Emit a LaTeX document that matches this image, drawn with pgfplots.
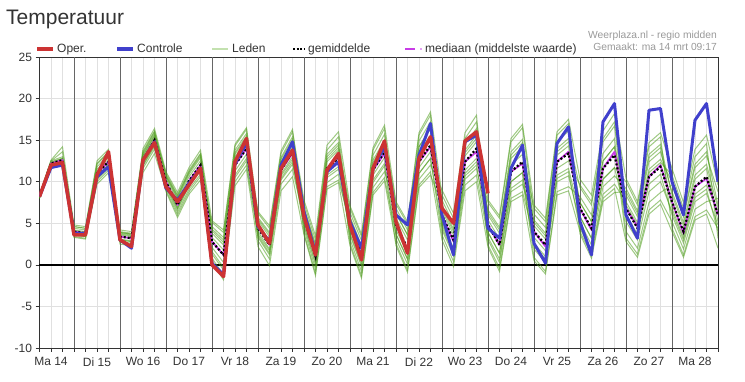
\documentclass[border=0pt]{standalone}
\usepackage{pgfplots}
\pgfplotsset{compat=1.18}
\usepackage{pgfplotstable}
\usepackage{fontspec}
\setmainfont{Liberation Sans}
\definecolor{oper}{RGB}{204,51,51}
\definecolor{ctrl}{RGB}{64,64,204}
\definecolor{memb}{RGB}{80,158,30}
\definecolor{legmemb}{RGB}{195,225,175}
\definecolor{medc}{RGB}{200,60,230}
\definecolor{txt}{RGB}{51,51,51}

\pgfplotstableread{
t oper ctrl mean med m1 m2 m3 m4 m5 m6 m7 m8 m9 m10 m11 m12
14.25 8.2 8.2 8.2 8.2 8.4 8.0 8.3 8.1 8.2 8.4 8.1 8.3 8.1 8.2 8.4 8.0
14.50 12.0 11.7 12.2 12.2 12.6 11.8 12.4 12.1 12.2 12.5 12.0 12.3 12.1 12.3 12.5 11.9
14.75 12.3 12.0 12.6 12.6 14.2 12.0 12.8 12.4 12.6 13.0 12.2 12.8 12.4 12.7 13.6 12.1
15.00 3.6 3.8 4.0 4.0 4.8 3.3 4.4 3.8 4.2 3.6 4.6 3.4 4.1 3.8 4.6 3.6
15.25 3.6 3.8 3.8 3.8 4.6 3.1 4.2 3.6 4.0 3.4 4.4 3.2 3.9 3.6 4.4 3.4
15.50 10.8 10.6 11.0 11.0 12.5 9.7 11.8 10.7 11.5 10.3 12.2 10.0 11.2 10.6 12.1 10.3
15.75 13.6 11.8 12.4 12.4 13.9 11.1 13.2 12.1 12.9 11.7 13.6 11.4 12.6 12.0 13.5 11.7
16.00 3.0 3.0 3.4 3.4 4.2 2.5 3.6 3.8 3.0 3.9 3.1 4.0 2.8 3.7 3.9 3.0
16.25 2.2 2.0 3.2 3.2 4.0 2.3 3.4 3.6 2.8 3.7 2.9 3.8 2.6 3.5 3.7 2.8
16.50 12.6 12.6 12.6 12.6 14.0 11.1 12.9 13.2 11.9 13.5 12.2 13.7 11.6 13.1 13.4 12.0
16.75 14.7 14.8 15.0 15.0 16.4 13.4 15.3 15.6 14.2 16.0 14.5 16.1 13.9 15.5 15.8 14.4
17.00 9.4 9.2 10.0 10.0 11.2 9.0 9.6 10.7 8.8 10.4 9.3 10.8 10.6 9.5 11.0 9.8
17.25 7.6 7.8 7.2 7.2 8.7 6.0 6.8 8.1 5.7 7.7 6.3 8.3 8.0 6.6 8.4 6.9
17.50 9.6 9.8 10.1 10.1 11.7 8.8 9.6 11.1 8.5 10.6 9.1 11.2 10.9 9.5 11.4 9.8
17.75 11.6 11.6 12.0 12.0 13.8 10.6 11.5 13.1 10.2 12.5 10.9 13.3 12.9 11.3 13.4 11.6
18.00 0.0 0.2 2.8 2.8 5.3 0.3 1.6 4.1 3.3 0.8 4.6 3.8 2.1 5.1 4.3 1.3
18.25 -1.4 -1.2 1.2 1.2 4.2 -1.8 -0.3 2.7 1.8 -1.2 3.3 2.4 0.3 3.9 3.0 -0.6
18.50 12.4 12.2 12.0 12.0 14.5 9.5 10.8 13.3 12.5 10.0 13.8 13.0 11.3 14.3 13.5 10.5
18.75 15.2 14.7 14.0 14.0 16.5 11.5 12.8 15.3 14.5 12.0 15.8 15.0 13.3 16.3 15.5 12.5
19.00 4.8 4.6 4.4 4.6 6.2 2.2 5.5 3.7 6.4 3.3 4.8 2.9 5.7 4.0 5.3 3.5
19.25 2.6 2.8 2.4 2.4 4.4 -0.1 3.7 1.7 4.7 1.2 2.9 0.7 3.9 1.9 3.4 1.4
19.50 11.6 12.0 11.4 11.4 13.4 8.9 12.7 10.7 13.7 10.2 11.9 9.7 12.9 10.9 12.4 10.4
19.75 13.8 14.8 13.6 13.4 16.0 10.6 15.1 12.7 16.3 12.1 14.2 11.5 15.4 13.0 14.8 12.4
20.00 5.8 6.4 5.6 5.6 7.8 3.6 7.4 4.3 6.3 6.5 4.7 5.4 3.8 6.9 6.7 4.9
20.25 1.2 1.4 1.0 1.0 3.5 -1.3 3.0 -0.5 1.8 2.0 0.0 0.8 -1.0 2.5 2.3 0.3
20.50 11.4 11.2 11.6 11.6 14.4 9.1 13.8 9.9 12.4 12.7 10.5 11.3 9.4 13.3 13.0 10.8
20.75 13.4 12.4 12.8 13.0 16.0 9.9 15.4 10.9 13.8 14.1 11.5 12.5 10.2 14.7 14.4 11.8
21.00 4.8 5.2 4.8 4.8 7.1 2.3 5.6 4.3 3.1 6.8 6.3 3.6 5.1 2.6 5.8 3.8
21.25 0.6 2.0 1.2 1.2 3.7 -1.6 2.0 0.6 -0.8 3.4 2.9 -0.2 1.5 -1.3 2.3 0.1
21.50 11.6 11.6 11.4 11.4 14.1 8.4 12.3 10.8 9.3 13.8 13.2 9.9 11.7 8.7 12.6 10.2
21.75 14.9 14.2 13.6 13.4 16.8 10.1 14.7 12.9 11.2 16.4 15.7 11.9 14.0 10.5 15.0 12.2
22.00 5.2 6.0 4.8 4.8 7.6 2.6 4.2 6.2 6.8 3.1 7.3 2.3 5.6 3.7 6.2 3.7
22.25 1.4 4.8 2.0 1.8 5.2 -0.6 1.4 3.6 4.2 0.1 4.9 -0.9 3.0 0.7 3.6 0.7
22.50 12.8 13.2 12.4 12.4 15.9 9.6 11.7 14.2 14.9 10.3 15.6 9.3 13.5 11.0 14.2 11.0
22.75 15.4 17.0 14.4 14.2 18.4 11.2 13.6 16.4 17.2 12.0 18.0 10.8 15.6 12.8 16.4 12.8
23.00 6.8 6.0 6.0 6.0 8.4 3.0 7.8 6.6 4.8 9.0 4.2 7.2 5.1 3.6 6.9 4.5
23.25 5.0 1.2 3.0 2.8 5.6 -0.2 4.9 3.6 1.7 6.2 1.1 4.3 2.0 0.4 4.0 1.4
23.50 14.9 14.8 12.4 12.4 15.2 8.9 14.5 13.1 11.0 15.9 10.3 13.8 11.4 9.6 13.5 10.7
23.75 16.0 15.6 14.0 13.6 17.2 10.0 16.4 14.8 12.4 18.0 11.6 15.6 12.8 10.8 15.2 12.0
24.00 8.6 4.4 4.8 4.8 7.8 2.1 6.0 3.0 7.5 3.9 5.4 2.4 6.6 3.3 6.3 3.9
24.25 nan 3.2 2.4 2.4 5.9 -0.8 3.8 0.3 5.6 1.4 3.1 -0.4 4.5 0.7 4.2 1.4
24.50 nan 11.6 11.2 11.2 15.2 7.6 12.8 8.8 14.8 10.0 12.0 8.0 13.6 9.2 13.2 10.0
24.75 nan 14.4 12.4 12.2 16.9 8.4 14.2 9.7 16.5 11.1 13.3 8.8 15.1 10.2 14.7 11.1
25.00 nan 2.6 4.0 4.0 7.2 0.5 2.3 5.4 6.1 0.9 6.8 3.3 4.7 1.9 5.1 2.6
25.25 nan 0.2 2.4 2.2 5.6 -1.1 0.7 3.8 4.5 -0.8 5.2 1.7 3.1 0.3 3.5 1.0
25.50 nan 14.6 12.4 12.4 16.0 8.4 10.4 14.0 14.8 8.8 15.6 11.6 13.2 10.0 13.6 10.8
25.75 nan 16.6 13.4 13.6 17.5 8.9 11.2 15.2 16.1 9.4 17.0 12.5 14.3 10.7 14.8 11.6
26.00 nan 5.2 6.8 6.8 10.3 4.0 4.4 9.3 5.8 8.2 3.7 9.6 7.5 5.1 7.5 5.8
26.25 nan 1.2 4.4 4.2 8.4 1.2 1.6 7.2 3.2 6.0 0.8 7.6 5.2 2.4 5.2 3.2
26.50 nan 17.2 11.6 11.6 16.1 8.0 8.5 14.8 10.3 13.4 7.6 15.2 12.5 9.4 12.5 10.3
26.75 nan 19.4 13.2 13.6 18.2 9.2 9.7 16.7 11.7 15.2 8.7 17.2 14.2 10.7 14.2 11.7
27.00 nan 6.0 6.8 6.8 10.4 2.8 7.6 5.2 10.0 4.0 8.8 7.2 3.2 9.2 8.4 6.0
27.25 nan 3.2 4.4 4.6 7.6 0.9 5.1 3.0 7.2 2.0 6.2 4.8 1.3 6.5 5.8 3.7
27.50 nan 18.6 10.6 10.6 14.7 6.1 11.5 8.8 14.2 7.5 12.9 11.1 6.6 13.3 12.4 9.7
27.75 nan 18.8 11.8 12.0 15.9 7.3 12.7 10.0 15.4 8.7 14.1 12.3 7.8 14.5 13.6 10.9
28.00 nan 10.0 7.6 7.6 11.6 4.0 10.0 6.4 4.4 9.6 6.8 10.8 5.2 8.4 8.8 6.0
28.25 nan 6.0 4.0 3.8 7.5 0.9 6.1 3.0 1.2 5.8 3.3 6.8 1.9 4.7 5.1 2.6
28.50 nan 17.4 9.4 9.4 13.9 5.4 12.1 8.1 5.8 11.7 8.5 13.0 6.7 10.3 10.8 7.6
28.75 nan 19.4 10.6 10.4 15.6 6.1 13.6 9.1 6.6 13.1 9.6 14.6 7.6 11.6 12.1 8.6
29.00 nan 10.0 6.0 6.0 9.6 2.0 7.2 4.0 4.4 8.8 6.4 3.2 8.0 5.2 6.8 4.8
}\data

\begin{document}
\begin{tikzpicture}
\useasboundingbox (0pt,0pt) rectangle (745pt,382pt);
\begin{axis}[
  at={(39.5pt,34pt)}, anchor=south west,
  scale only axis, width=678.5pt, height=291pt,
  xmin=14.25, xmax=29, ymin=-10, ymax=25,
  axis line style={draw=black!80, line width=0.9pt},
  ytick={-10,-5,...,25},
  xtick={14.5,15.5,...,28.5},
  xticklabels={Ma 14,Di 15,Wo 16,Do 17,Vr 18,Za 19,Zo 20,Ma 21,Di 22,Wo 23,Do 24,Vr 25,Za 26,Zo 27,Ma 28},
  minor xtick={14.25,14.5,...,29},
  grid=both,
  major grid style={draw=black!12, line width=0.9pt},
  minor grid style={draw=black!12, line width=0.9pt},
  tick align=outside, tick pos=left,
  major tick length=4pt, minor tick length=4pt,
  tick style={draw=black!80, line width=0.7pt},
  extra x ticks={15,16,...,28},
  extra x tick labels={},
  extra x tick style={grid=major, major grid style={draw=black!60, line width=0.7pt}},
  extra y ticks={0},
  extra y tick labels={},
  extra y tick style={grid=major, major grid style={draw=black, line width=1.8pt}},
  ticklabel style={font=\fontsize{12}{14}\selectfont, text=txt},
  xticklabel style={yshift=-2pt},
  /pgf/number format/assume math mode=true,
  clip=true,
]
\foreach \m in {m1,m2,m3,m4,m5,m6,m7,m8,m9,m10,m11,m12}{
  \addplot[memb, opacity=0.55, line width=1pt, forget plot] table[x=t,y=\m]{\data};
}
\addplot[medc, line width=1.8pt, line join=round] table[x=t,y=med]{\data};
\addplot[black, line width=2.2pt, dash pattern=on 2pt off 2pt] table[x=t,y=mean]{\data};
\addplot[ctrl, line width=3pt, line join=round] table[x=t,y=ctrl]{\data};
\addplot[oper, line width=3.5pt, line join=round] table[x=t,y=oper]{\data};
\end{axis}
% title
\node[anchor=base west, inner sep=0pt, text=txt, font=\fontsize{21}{24}\selectfont] at (6pt,357pt) {Temperatuur};
% legend
\begin{scope}[every node/.style={anchor=base west, inner sep=0pt, text=txt, font=\fontsize{12}{14}\selectfont}]
\draw[oper, line width=3.5pt] (37pt,333pt) -- (53pt,333pt);
\node at (57pt,329pt) {Oper.};
\draw[ctrl, line width=3.5pt] (117pt,333pt) -- (133pt,333pt);
\node at (137pt,329pt) {Controle};
\draw[legmemb, line width=1.3pt] (212pt,333pt) -- (228pt,333pt);
\node at (232pt,329pt) {Leden};
\draw[black, line width=2.2pt, dash pattern=on 2pt off 1.6pt] (293pt,333pt) -- (305pt,333pt);
\node at (308pt,329pt) {gemiddelde};
\draw[medc, line width=2.5pt] (405pt,333pt) -- (415pt,333pt);
\fill[medc] (421pt,333pt) circle (0.9pt);
\node at (425pt,329pt) {mediaan (middelste waarde)};
\end{scope}
\node[anchor=base east, inner sep=0pt, text=black!40, font=\fontsize{10.3}{12}\selectfont] at (717pt,343.5pt) {Weerplaza.nl - regio midden};
\node[anchor=base east, inner sep=0pt, text=black!40, font=\fontsize{10.3}{12}\selectfont] at (717pt,331pt) {Gemaakt: ma 14 mrt 09:17};
\end{tikzpicture}
\end{document}
